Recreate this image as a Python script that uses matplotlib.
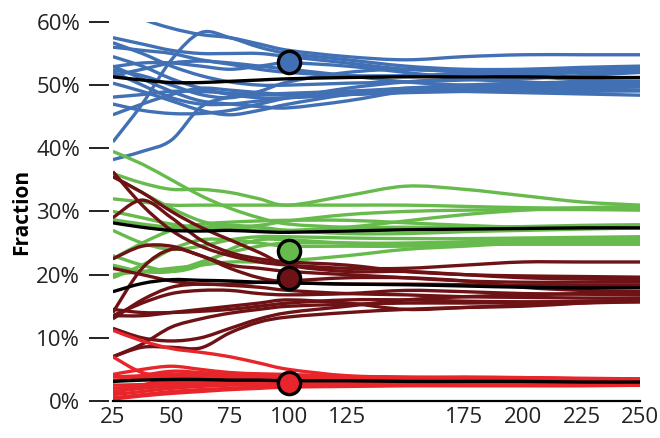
import matplotlib
matplotlib.use("Agg")
import matplotlib.pyplot as plt
from matplotlib.path import Path
from matplotlib.patches import PathPatch

plt.rcParams['font.family'] = ['Open Sans', 'DejaVu Sans']

x = [25, 37.5, 50, 62.5, 75, 87.5, 100, 125, 150, 175, 200, 225, 250]

# blue group (%)
blue_lines = [
    [63, 60.5, 59, 58, 57.5, 56.5, 55.5, 54.5, 54, 54.5, 54.8, 54.8, 54.8],
    [41, 47, 54, 58.3, 57.5, 56, 55, 54, 53, 52.5, 52.5, 52.8, 53],
    [57.5, 56.5, 55.5, 55, 55, 55, 54.5, 53.5, 52.5, 52.3, 52.3, 52.5, 52.6],
    [56.7, 55, 53, 51.5, 50.5, 50, 50, 50.3, 50.5, 50.8, 51, 51.5, 52],
    [56, 55.5, 55, 54, 53.3, 52.5, 52, 51.5, 51.5, 51.8, 52, 52, 52.2],
    [52.9, 53.5, 53.5, 53, 52.5, 53, 53.5, 53, 52, 51, 50.5, 50.2, 50.2],
    [52.4, 51.5, 50, 48.5, 48, 49, 50.5, 52, 52.5, 52, 51.5, 50.8, 50.6],
    [52.1, 50, 48, 47, 47, 47.5, 48, 48.5, 49, 49.2, 49.5, 49.7, 49.7],
    [50.3, 49, 47.5, 46, 45.3, 46, 47, 48.5, 49.5, 49.5, 49.3, 49.2, 49.1],
    [48.1, 48.5, 49, 49, 48.7, 48.5, 48.7, 49, 49.2, 49, 48.8, 48.6, 48.4],
    [45.3, 47, 48.5, 49.5, 49.2, 48.8, 48.5, 48.5, 48.8, 49, 49.3, 49.5, 49.7],
    [38.2, 39.5, 41.3, 46.5, 48.1, 48.5, 48.5, 49, 49.5, 50, 50.3, 50.5, 50.6],
    [54.5, 53, 51, 49.5, 48.5, 48, 48, 48.5, 49, 49, 49, 49, 49.1],
    [53, 51, 49, 47.5, 47, 46.6, 46.4, 47.5, 49, 49.5, 49.6, 49.8, 50.2],
    [51.5, 52.5, 53.5, 53.8, 53.5, 53, 52.5, 51.5, 50.5, 50, 50, 50.2, 50.5],
    [47, 46, 45.5, 45.5, 46, 47, 48, 49.5, 50.5, 51, 51.5, 52, 52.2],
]
blue_mean = [51.3, 50.8, 50.4, 50.4, 50.6, 50.8, 51.0, 51.2, 51.3, 51.3, 51.3, 51.2, 51.2]

# green group (%)
green_lines = [
    [39.5, 37.5, 35, 32.5, 30.5, 29, 28, 27.5, 27.5, 27.5, 27.6, 27.8, 27.9],
    [36, 34.5, 33.5, 33.5, 33, 32, 31, 32.5, 34, 33.5, 32.5, 31.5, 31],
    [35.5, 33, 30.5, 28.5, 27.5, 27, 27, 27.5, 28.5, 29.5, 30.2, 30.6, 30.8],
    [32, 31.5, 31, 31, 31, 31, 31, 31, 31, 30.8, 30.6, 30.5, 30.4],
    [30, 29, 28, 27.5, 27.5, 27.8, 28.5, 29.5, 30, 30.2, 30.3, 30.3, 30.2],
    [28.7, 28, 27.5, 27.5, 27.8, 27.5, 27, 26.5, 26.5, 26.8, 27, 27.2, 27.4],
    [27, 25, 24, 24.5, 25.5, 26, 26, 25.8, 25.7, 25.7, 25.8, 25.9, 26],
    [23, 21.5, 20.5, 21.5, 24, 25.5, 25.5, 25, 25, 25.2, 25.4, 25.5, 25.6],
    [21.5, 20.5, 20.5, 22, 23.5, 24.5, 25, 25, 24.8, 24.8, 24.8, 24.8, 24.8],
    [20, 20.5, 21, 21.5, 22, 22, 22.2, 23, 24, 24.5, 25, 25.2, 25.2],
    [19.5, 21.5, 24, 25.5, 25.5, 25, 24.5, 24.5, 24.5, 24.8, 25, 25.2, 25.5],
    [22.5, 25, 27, 28, 28.3, 28.5, 28.6, 28.6, 28.2, 27.8, 27.5, 27.4, 27.5],
]
green_mean = [28.2, 27.5, 27, 26.9, 27, 26.8, 26.7, 26.9, 27.1, 27.2, 27.3, 27.4, 27.4]

# dark red group (%)
darkred_lines = [
    [36.3, 31, 27, 24.5, 23, 22, 21.5, 21, 21, 21.5, 22, 22, 22],
    [29, 31.8, 29, 25.5, 23.5, 22.5, 22, 21.5, 20.5, 20, 19.8, 19.7, 19.6],
    [35.5, 33, 30, 27.5, 25.5, 23.5, 21.5, 20.5, 20.5, 20, 19.5, 19.3, 19.2],
    [22.5, 24.5, 24.5, 23, 21.5, 21, 20.5, 20, 19.5, 19, 18.8, 18.8, 18.8],
    [14, 21, 24, 23, 21, 19.5, 18.8, 18.5, 18.5, 18.4, 18.3, 18.3, 18.3],
    [21, 20, 19, 18.5, 18.5, 18.8, 19, 19.5, 19.5, 19, 18, 17.5, 17.3],
    [13.5, 15.5, 17, 17.5, 17.5, 17, 16.8, 17, 17.5, 17.3, 17, 16.9, 16.8],
    [13, 16, 18, 18.5, 18.3, 18, 17.5, 17, 16.8, 16.5, 16.4, 16.3, 16.3],
    [14.5, 14, 14, 14.2, 14.5, 15, 15.5, 16, 16, 15.8, 15.7, 15.7, 15.7],
    [13.5, 13.5, 14, 14.5, 15, 15.5, 16, 15.5, 14.5, 14.8, 15.2, 15.5, 15.7],
    [7, 9, 11.7, 13, 13.9, 14.5, 15, 15.3, 15.5, 15.5, 15.6, 15.8, 16],
    [7, 8.5, 8.5, 8.4, 10.8, 12.5, 13.3, 14, 14.5, 14.8, 15, 15.5, 16],
    [11.5, 10, 9.5, 10, 11.5, 13, 14, 15, 16, 16.5, 16.8, 17, 17.2],
]
darkred_mean = [17.3, 18.6, 19.2, 19.1, 19.0, 18.8, 18.7, 18.5, 18.4, 18.2, 18.0, 17.9, 17.9]

# red group (%)
red_lines = [
    [11.2, 9.5, 8.3, 7.7, 7, 6, 5, 4, 3.8, 3.7, 3.6, 3.5, 3.5],
    [7, 4.5, 4, 4, 4, 4, 4, 3.8, 3.7, 3.8, 3.7, 3.6, 3.5],
    [4.2, 5, 5.5, 5, 4.5, 4.3, 4.2, 3.9, 3.7, 3.6, 3.5, 3.4, 3.4],
    [3.8, 4, 4.2, 4.3, 4.3, 4.2, 4, 3.7, 3.6, 3.6, 3.5, 3.5, 3.3],
    [3.3, 3.5, 3.8, 4, 4, 3.8, 3.5, 3.4, 3.4, 3.6, 3.7, 3.5, 3.3],
    [2.5, 2.6, 2.8, 3, 3.2, 3.2, 3.2, 3.1, 3, 3, 3, 3, 3],
    [2, 2.3, 2.6, 2.8, 3, 3, 3, 2.9, 2.8, 2.8, 2.8, 2.8, 2.8],
    [1.5, 2, 2.4, 2.6, 2.8, 2.8, 2.7, 2.7, 2.6, 2.6, 2.6, 2.6, 2.6],
    [1, 1.5, 2, 2.3, 2.5, 2.5, 2.5, 2.5, 2.5, 2.5, 2.5, 2.5, 2.5],
    [0.5, 1, 1.5, 1.8, 2, 2.2, 2.3, 2.4, 2.5, 2.6, 2.6, 2.6, 2.6],
    [4, 3.5, 3.2, 3.3, 3.5, 3.6, 3.6, 3.5, 3.4, 3.4, 3.4, 3.3, 3.2],
    [1.2, 2.5, 3.5, 3.8, 3.7, 3.5, 3.3, 3.2, 3.2, 3.3, 3.3, 3.2, 3.1],
    [0.3, 0.8, 1.2, 1.5, 1.8, 2, 2.2, 2.3, 2.4, 2.4, 2.4, 2.4, 2.5],
    [3, 4, 4.7, 4.5, 4.2, 4, 3.8, 3.6, 3.5, 3.4, 3.4, 3.3, 3.3],
]
red_mean = [3.1, 3.3, 3.4, 3.4, 3.3, 3.3, 3.2, 3.2, 3.1, 3.1, 3.1, 3.0, 3.0]

# highlighted points at x = 100
dot_x = 100
dot_y = [53.6, 23.8, 19.5, 2.85]
colors = ["#4170b5", "#66bb4c", "#6e1215", "#e8252b"]

groups = [blue_lines, green_lines, darkred_lines, red_lines]
means = [blue_mean, green_mean, darkred_mean, red_mean]


def smooth_path(xs, ys):
    """曲线通过各个点（Catmull-Rom 转成贝塞尔曲线）"""
    n = len(xs)
    verts = [(xs[0], ys[0])]
    codes = [Path.MOVETO]
    for i in range(n - 1):
        i0 = max(i - 1, 0)
        i3 = min(i + 2, n - 1)
        c1 = (xs[i] + (xs[i + 1] - xs[i0]) / 6, ys[i] + (ys[i + 1] - ys[i0]) / 6)
        c2 = (xs[i + 1] - (xs[i3] - xs[i]) / 6, ys[i + 1] - (ys[i3] - ys[i]) / 6)
        verts += [c1, c2, (xs[i + 1], ys[i + 1])]
        codes += [Path.CURVE4] * 3
    return Path(verts, codes)


def draw_curve(ax, xs, ys, color, lw, z):
    patch = PathPatch(smooth_path(xs, ys), fill=False, edgecolor=color,
                      linewidth=lw, joinstyle="round", capstyle="butt",
                      zorder=z)
    ax.add_patch(patch)


fig = plt.figure(figsize=(6.6, 4.38), dpi=100)
ax = fig.add_axes([0.171, 0.0845, 0.799, 0.8655])

for lines, c in zip(groups, colors):
    for ys in lines:
        draw_curve(ax, x, ys, c, 2.4, 2)

for m in means:
    draw_curve(ax, x, m, "black", 2.4, 3)

for yv, c in zip(dot_y, colors):
    ax.plot(dot_x, yv, "o", markersize=16, markerfacecolor=c,
            markeredgecolor="black", markeredgewidth=2.4, zorder=5,
            clip_on=False)

ax.set_xlim(25, 250)
ax.set_ylim(0, 60)

# 坐标轴样式
for s in ["top", "right", "left"]:
    ax.spines[s].set_visible(False)
ax.spines["left"].set_position(("outward", 3))
ax.spines["bottom"].set_linewidth(1.6)
ax.spines["bottom"].set_zorder(4)

ax.set_xticks([25, 50, 75, 100, 125, 175, 200, 225, 250])
ax.set_yticks([0, 10, 20, 30, 40, 50, 60])
ax.set_yticklabels(["0%", "10%", "20%", "30%", "40%", "50%", "60%"])
ax.tick_params(axis="x", length=0, labelsize=16, pad=4)
ax.tick_params(axis="y", length=14.5, width=1.4, labelsize=16, pad=6)
ax.tick_params(axis="both", labelcolor="#222222", colors="#222222")

ax.set_ylabel("Fraction", fontsize=15, fontweight="bold", labelpad=3)

fig.savefig("out.png", dpi=100)
